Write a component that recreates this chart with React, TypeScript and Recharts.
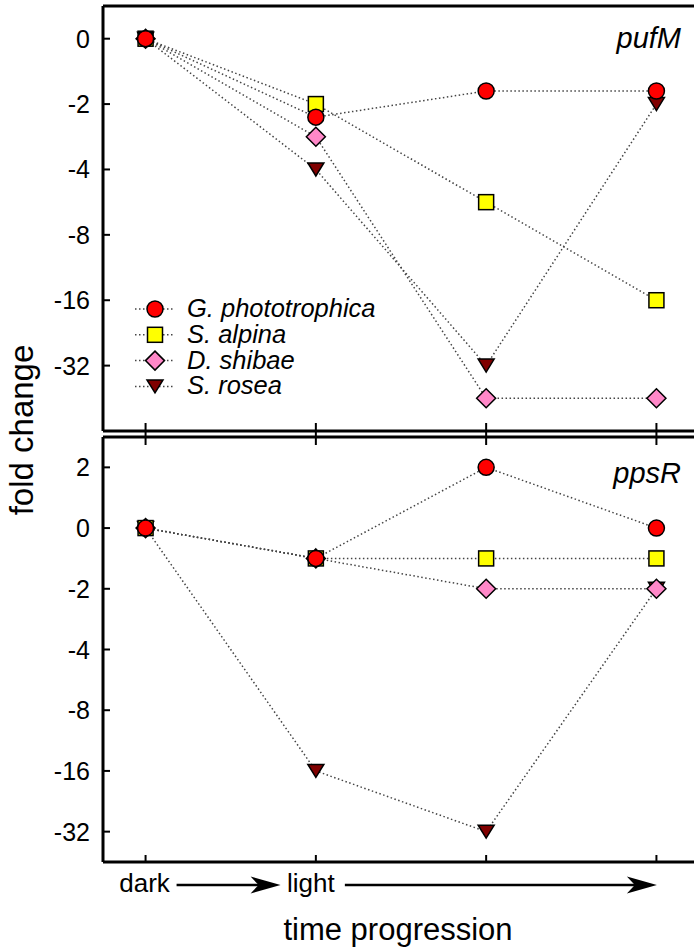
import React from 'react';
import { LineChart, Line, XAxis, YAxis, Legend } from 'recharts';

// ---- data ----
const categories = ['dark', 'light', '', ''];
const xIndex = [0, 1, 2, 3];

const seriesNames = ['G. phototrophica', 'S. alpina', 'D. shibae', 'S. rosea'];
const seriesKeys = ['G', 'S', 'D', 'R'];
const seriesColors = ['#ff0000', '#ffff00', '#ff88c8', '#800000'];
const seriesShapes = ['circle', 'square', 'diamond', 'triangle'];

// axis positions are log2 steps; labels are the fold change shown on the axis
const pufMTickValues = [0, -1, -2, -3, -4, -5];
const pufMTickLabels = ['0', '-2', '-4', '-8', '-16', '-32'];
const ppsRTickValues = [1, 0, -1, -2, -3, -4, -5];
const ppsRTickLabels = ['2', '0', '-2', '-4', '-8', '-16', '-32'];

const pufM_G = [0, -1.2, -0.8, -0.8];
const pufM_S = [0, -1.0, -2.5, -4.0];
const pufM_D = [0, -1.5, -5.5, -5.5];
const pufM_R = [0, -2.0, -5.0, -1.0];

const ppsR_G = [0, -0.5, 1.0, 0];
const ppsR_S = [0, -0.5, -0.5, -0.5];
const ppsR_D = [0, -0.5, -1.0, -1.0];
const ppsR_R = [0, -4.0, -5.0, -1.0];

const FONT = '"Liberation Sans", Arial, Helvetica, sans-serif';
const W = 720;
const H = 949;

const buildData = (vals: number[][]) =>
  xIndex.map((x, i) => {
    const row: any = { x, cat: categories[i] };
    seriesKeys.forEach((k, s) => (row[k] = vals[s][i]));
    return row;
  });

const pufMData = buildData([pufM_G, pufM_S, pufM_D, pufM_R]);
const ppsRData = buildData([ppsR_G, ppsR_S, ppsR_D, ppsR_R]);

function Marker({ shape, cx, cy, fill }: any) {
  const common = { fill, stroke: '#000', strokeWidth: 1.5 };
  if (shape === 'circle') return <circle cx={cx} cy={cy} r={8} {...common} />;
  if (shape === 'square') return <rect x={cx - 7.5} y={cy - 7.5} width={15} height={15} {...common} />;
  if (shape === 'diamond')
    return (
      <polygon
        points={`${cx},${cy - 9.5} ${cx + 9.5},${cy} ${cx},${cy + 9.5} ${cx - 9.5},${cy}`}
        {...common}
      />
    );
  return (
    <polygon
      points={`${cx - 8},${cy - 6.5} ${cx + 8},${cy - 6.5} ${cx},${cy + 6.5}`}
      {...common}
    />
  );
}

const makeYTick = (values: number[], labels: string[]) => (props: any) => {
  const { x, y, payload } = props;
  const idx = values.indexOf(payload.value);
  return (
    <g>
      <line x1={x} x2={x + 7} y1={y} y2={y} stroke="#000" strokeWidth={2} />
      <text x={x - 13} y={y} dy="0.36em" textAnchor="end" fontSize={25} fontFamily={FONT} fill="#000">
        {idx >= 0 ? labels[idx] : ''}
      </text>
    </g>
  );
};

const TopPanelBottomTick = (props: any) => {
  const { x, y } = props;
  return <line x1={x} x2={x} y1={y - 8} y2={y + 7} stroke="#000" strokeWidth={2} />;
};

const BottomPanelTopTick = (props: any) => {
  const { x, y } = props;
  return <line x1={x} x2={x} y1={y} y2={y + 8} stroke="#000" strokeWidth={2} />;
};

const Arrow = ({ x1, x2, y }: any) => (
  <g>
    <line x1={x1} x2={x2 - 20} y1={y} y2={y} stroke="#000" strokeWidth={2.5} />
    <polygon points={`${x2},${y} ${x2 - 30},${y - 8.5} ${x2 - 22},${y} ${x2 - 30},${y + 8.5}`} fill="#000" />
  </g>
);

const BottomPanelBottomTick = (props: any) => {
  const { x, y, payload } = props;
  const i = payload.value;
  const label = categories[i];
  return (
    <g>
      <line x1={x} x2={x} y1={y - 7} y2={y} stroke="#000" strokeWidth={2} />
      {label ? (
        <text x={i === 1 ? x - 5 : x - 1} y={y + 30} textAnchor="middle" fontSize={26} fontFamily={FONT} fill="#000">
          {label}
        </text>
      ) : null}
      {i === 0 ? <Arrow x1={x + 31} x2={x + 135} y={y + 23} /> : null}
      {i === 1 ? <Arrow x1={x + 29} x2={x + 341} y={y + 23} /> : null}
    </g>
  );
};

const LegendContent = () => (
  <svg width={320} height={120} style={{ display: 'block', overflow: 'visible' }}>
    {seriesNames.map((name, i) => {
      const cy = 14 + i * 25.8;
      return (
        <g key={name}>
          <line x1={5} x2={43} y1={cy} y2={cy} stroke="#444" strokeWidth={1.5} strokeDasharray="1.5 2.5" />
          <Marker shape={seriesShapes[i]} cx={25} cy={cy} fill={seriesColors[i]} />
          <text x={57} y={cy + 8} fontSize={25.5} fontStyle="italic" fontFamily={FONT} fill="#000">
            {name}
          </text>
        </g>
      );
    })}
  </svg>
);

const renderLines = (order: string[]) =>
  order.map((k) => {
    const s = seriesKeys.indexOf(k);
    return (
      <Line
        key={k}
        type="linear"
        dataKey={k}
        name={seriesNames[s]}
        stroke="#444"
        strokeWidth={1.5}
        strokeDasharray="1.5 2.5"
        isAnimationActive={false}
        activeDot={false}
        dot={(p: any) => (
          <Marker key={`${k}-${p.index}`} shape={seriesShapes[s]} cx={p.cx} cy={p.cy} fill={seriesColors[s]} />
        )}
      />
    );
  });

const axisLineStyle = { stroke: '#000', strokeWidth: 3 };

export default function App() {
  return (
    <div
      style={{
        position: 'absolute',
        left: 0,
        top: 0,
        width: 694,
        height: 949,
        overflow: 'hidden',
        background: '#fff',
      }}
    >
      {/* top panel: pufM */}
      <div style={{ position: 'absolute', left: 0, top: 0 }}>
        <LineChart width={W} height={H} data={pufMData} margin={{ top: 5, right: W - 699, bottom: H - 432, left: 0 }}>
          <XAxis
            xAxisId="top"
            orientation="top"
            type="number"
            dataKey="x"
            domain={[-0.25, 3.25]}
            ticks={xIndex}
            height={1}
            tick={false}
            tickLine={false}
            axisLine={axisLineStyle}
          />
          <XAxis
            type="number"
            dataKey="x"
            domain={[-0.25, 3.25]}
            ticks={xIndex}
            interval={0}
            height={1}
            tickSize={0}
            tickMargin={0}
            tickLine={false}
            tick={TopPanelBottomTick}
            axisLine={axisLineStyle}
          />
          <YAxis
            type="number"
            domain={[-6, 0.5]}
            ticks={pufMTickValues}
            interval={0}
            width={103}
            tickSize={0}
            tickMargin={0}
            tickLine={false}
            tick={makeYTick(pufMTickValues, pufMTickLabels)}
            axisLine={axisLineStyle}
          />
          <Legend
            layout="vertical"
            align="center"
            verticalAlign="middle"
            content={LegendContent}
            wrapperStyle={{ left: 130, top: 295, width: 320, height: 120 }}
          />
          {renderLines(['D', 'S', 'R', 'G'])}
        </LineChart>
      </div>

      {/* bottom panel: ppsR */}
      <div style={{ position: 'absolute', left: 0, top: 0 }}>
        <LineChart width={W} height={H} data={ppsRData} margin={{ top: 436, right: W - 699, bottom: H - 863, left: 0 }}>
          <XAxis
            xAxisId="top"
            orientation="top"
            type="number"
            dataKey="x"
            domain={[-0.25, 3.25]}
            ticks={xIndex}
            interval={0}
            height={1}
            tickSize={0}
            tickMargin={0}
            tickLine={false}
            tick={BottomPanelTopTick}
            axisLine={axisLineStyle}
          />
          <XAxis
            type="number"
            dataKey="x"
            domain={[-0.25, 3.25]}
            ticks={xIndex}
            interval={0}
            height={1}
            tickSize={0}
            tickMargin={0}
            tickLine={false}
            tick={BottomPanelBottomTick}
            axisLine={axisLineStyle}
          />
          <YAxis
            type="number"
            domain={[-5.5, 1.5]}
            ticks={ppsRTickValues}
            interval={0}
            width={103}
            tickSize={0}
            tickMargin={0}
            tickLine={false}
            tick={makeYTick(ppsRTickValues, ppsRTickLabels)}
            axisLine={axisLineStyle}
          />
          {renderLines(['R', 'S', 'D', 'G'])}
        </LineChart>
      </div>

      {/* titles */}
      <svg
        width={694}
        height={949}
        style={{ position: 'absolute', left: 0, top: 0, pointerEvents: 'none' }}
      >
        <text x={681} y={48} textAnchor="end" fontSize={29} fontStyle="italic" fontFamily={FONT} fill="#000">
          pufM
        </text>
        <text x={681} y={483} textAnchor="end" fontSize={29} fontStyle="italic" fontFamily={FONT} fill="#000">
          ppsR
        </text>
        <text
          x={33}
          y={430}
          textAnchor="middle"
          fontSize={33}
          fontFamily={FONT}
          fill="#000"
          transform="rotate(-90 33 430)"
        >
          fold change
        </text>
        <text x={398} y={940} textAnchor="middle" fontSize={31} fontFamily={FONT} fill="#000">
          time progression
        </text>
      </svg>
    </div>
  );
}
